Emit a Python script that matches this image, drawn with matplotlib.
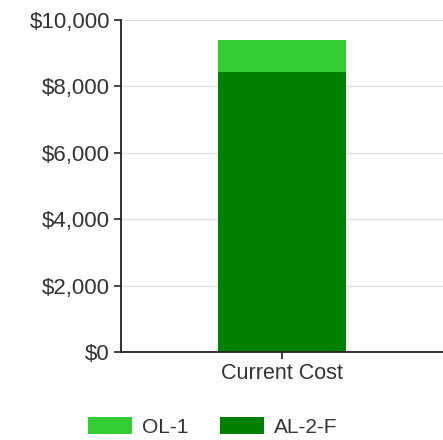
import matplotlib
matplotlib.use('Agg')
import matplotlib.pyplot as plt
from matplotlib.ticker import FuncFormatter

plt.rcParams['font.family'] = ['Liberation Sans', 'DejaVu Sans']

# data
categories = ['Current Cost']
al2f = [8430]
ol1 = [970]
series_names = ['OL-1', 'AL-2-F']
colors = ['#33cc33', '#008000']

fig = plt.figure(figsize=(4.43, 4.40), dpi=100)
ax = fig.add_axes([121/443, 1 - 352/440, 1 - 121/443, (352 - 20)/440])

x = [0.5]
b2 = ax.bar(x, al2f, width=0.4, color=colors[1], label=series_names[1], zorder=3)
b1 = ax.bar(x, ol1, width=0.4, bottom=al2f, color=colors[0], label=series_names[0], zorder=3)

ax.set_xlim(0, 1)
ax.set_ylim(0, 10000)
ax.set_yticks(range(0, 10001, 2000))
ax.yaxis.set_major_formatter(FuncFormatter(lambda v, p: '${:,.0f}'.format(v)))
ax.set_xticks(x)
ax.set_xticklabels(categories)

ax.grid(axis='y', color='#e0e0e0', linewidth=1, zorder=0)
for s in ['top', 'right']:
    ax.spines[s].set_visible(False)
for s in ['left', 'bottom']:
    ax.spines[s].set_linewidth(1.3)
    ax.spines[s].set_color('#222222')
    ax.spines[s].set_zorder(4)

ax.tick_params(axis='y', labelsize=16, length=5, width=1.2, pad=3, colors='#222222', labelcolor='#333333')
ax.tick_params(axis='x', labelsize=15.5, length=5, width=1.2, pad=3, colors='#222222', labelcolor='#333333')

fig.legend([b1, b2], series_names, loc='center', bbox_to_anchor=(213/443, 1 - 427/440),
           ncol=2, frameon=False, fontsize=15, handlelength=2.1, handleheight=0.87,
           handletextpad=0.5, columnspacing=1.5, labelcolor='#333333')

fig.savefig('out.png', dpi=100)
